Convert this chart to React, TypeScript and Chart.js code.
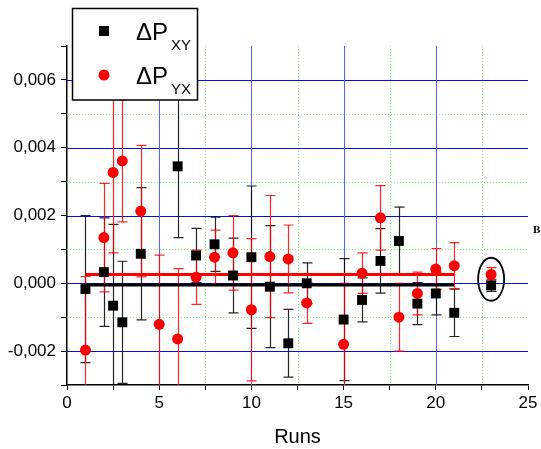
import React, { useEffect, useRef } from 'react';
import { Chart, registerables } from 'chart.js';

Chart.register(...registerables);

// ---- Data ----
const runsXY = [1, 2, 2.5, 3, 4, 6, 7, 8, 9, 10, 11, 12, 13, 15, 16, 17, 18, 19, 20, 21, 23];
const dPXY = [-0.00017, 0.00033, -0.00066, -0.00115, 0.00087, 0.00345, 0.00082, 0.00115, 0.00023, 0.00077, -0.0001, -0.00177, 0.0, -0.00107, -0.00049, 0.00066, 0.00125, -0.0006, -0.0003, -0.00087, -0.00006];
const errXY = [0.00217, 0.0016, 0.0024, 0.0018, 0.00195, 0.0021, 0.0008, 0.0008, 0.0011, 0.0021, 0.0018, 0.001, 0.0006, 0.0018, 0.00065, 0.00095, 0.001, 0.00062, 0.00063, 0.0007, 0.00018];

const runsYX = [1, 2, 2.5, 3, 4, 5, 6, 7, 8, 9, 10, 11, 12, 13, 15, 16, 17, 18, 19, 20, 21, 23];
const dPYX = [-0.00197, 0.00135, 0.00327, 0.00361, 0.00213, -0.00121, -0.00164, 0.00018, 0.00077, 0.0009, -0.00078, 0.00079, 0.00072, -0.00058, -0.0018, 0.0003, 0.00193, -0.001, -0.0003, 0.00042, 0.00052, 0.00026];
const errYX = [0.00217, 0.0016, 0.00237, 0.0018, 0.00194, 0.00204, 0.00207, 0.0008, 0.0008, 0.0011, 0.0021, 0.0018, 0.001, 0.0006, 0.0018, 0.0006, 0.00095, 0.001, 0.00063, 0.0006, 0.00068, 0.0002];

const meanRuns = [1, 21];
const meanXY = -0.00005;
const meanYX = 0.00026;

const circledRun = 23;
const circledValue = 0.00012;

const xLabel = 'Runs';
const legendMain = 'ΔP';
const legendSubXY = 'XY';
const legendSubYX = 'YX';
const cornerMark = 'B';

const FONT = '"Liberation Sans", Arial, Helvetica, sans-serif';

const isMajorY = (v: number) => Math.round(v * 1000) % 2 === 0;
const isMajorX = (v: number) => Math.round(v / 2.5) % 2 === 0;

const gridPlugin = {
  id: 'customGrid',
  beforeDatasetsDraw(chart: any) {
    const { ctx, chartArea, scales } = chart;
    const x = scales.x;
    const y = scales.y;
    ctx.save();
    ctx.lineWidth = 1;
    // minor (dotted green)
    ctx.strokeStyle = 'rgb(150,235,150)';
    ctx.setLineDash([1, 2]);
    y.ticks.forEach((t: any) => {
      if (isMajorY(t.value) || t.value <= y.min + 1e-9 || t.value >= y.max - 1e-9) return;
      const p = Math.round(y.getPixelForValue(t.value)) + 0.5;
      ctx.beginPath();
      ctx.moveTo(chartArea.left, p);
      ctx.lineTo(chartArea.right, p);
      ctx.stroke();
    });
    x.ticks.forEach((t: any) => {
      if (isMajorX(t.value) || t.value <= x.min || t.value >= x.max) return;
      const p = Math.round(x.getPixelForValue(t.value)) + 0.5;
      ctx.beginPath();
      ctx.moveTo(p, chartArea.top);
      ctx.lineTo(p, chartArea.bottom);
      ctx.stroke();
    });
    ctx.setLineDash([]);
    // major (blue)
    ctx.strokeStyle = 'rgb(10,10,240)';
    y.ticks.forEach((t: any) => {
      if (!isMajorY(t.value) || t.value <= y.min + 1e-9 || t.value >= y.max - 1e-9) return;
      const p = Math.round(y.getPixelForValue(t.value)) + 0.5;
      ctx.beginPath();
      ctx.moveTo(chartArea.left, p);
      ctx.lineTo(chartArea.right, p);
      ctx.stroke();
    });
    ctx.strokeStyle = 'rgb(90,90,245)';
    x.ticks.forEach((t: any) => {
      if (!isMajorX(t.value) || t.value <= x.min || t.value >= x.max) return;
      const p = Math.round(x.getPixelForValue(t.value)) + 0.5;
      ctx.beginPath();
      ctx.moveTo(p, chartArea.top);
      ctx.lineTo(p, chartArea.bottom);
      ctx.stroke();
    });
    ctx.restore();
  },
};

const errorBarsPlugin = {
  id: 'errorBars',
  beforeDatasetsDraw(chart: any) {
    const { ctx, chartArea, scales } = chart;
    const x = scales.x;
    const y = scales.y;
    ctx.save();
    ctx.beginPath();
    ctx.rect(chartArea.left, chartArea.top, chartArea.right - chartArea.left, chartArea.bottom - chartArea.top);
    ctx.clip();
    const draw = (xs: number[], vs: number[], es: number[], color: string) => {
      ctx.strokeStyle = color;
      ctx.lineWidth = 1.2;
      xs.forEach((xv, i) => {
        const px = Math.round(x.getPixelForValue(xv)) + 0.5;
        const top = y.getPixelForValue(vs[i] + es[i]);
        const bot = y.getPixelForValue(vs[i] - es[i]);
        ctx.beginPath();
        ctx.moveTo(px, top);
        ctx.lineTo(px, bot);
        ctx.moveTo(px - 5, top);
        ctx.lineTo(px + 5, top);
        ctx.moveTo(px - 5, bot);
        ctx.lineTo(px + 5, bot);
        ctx.stroke();
      });
    };
    draw(runsXY, dPXY, errXY, 'rgba(0,0,0,0.85)');
    draw(runsYX, dPYX, errYX, 'rgba(255,0,0,0.85)');
    ctx.restore();
  },
};

const overlayPlugin = {
  id: 'overlay',
  afterDraw(chart: any) {
    const { ctx, scales } = chart;
    const x = scales.x;
    const y = scales.y;
    ctx.save();
    // ellipse around the last pair of points
    ctx.beginPath();
    ctx.ellipse(x.getPixelForValue(circledRun), y.getPixelForValue(circledValue), 13, 21.5, 0, 0, Math.PI * 2);
    ctx.strokeStyle = 'black';
    ctx.lineWidth = 1.8;
    ctx.stroke();

    // legend box
    ctx.fillStyle = 'white';
    ctx.fillRect(72, 8, 126, 92);
    ctx.strokeStyle = 'black';
    ctx.lineWidth = 1.5;
    ctx.strokeRect(72.5, 8.5, 125, 91.5);

    ctx.fillStyle = 'black';
    ctx.fillRect(99, 26, 10, 10);
    ctx.beginPath();
    ctx.arc(104, 75, 5.5, 0, Math.PI * 2);
    ctx.fillStyle = 'red';
    ctx.fill();

    ctx.fillStyle = 'black';
    ctx.textBaseline = 'alphabetic';
    ctx.textAlign = 'left';
    const rows: [string, number][] = [[legendSubXY, 39.5], [legendSubYX, 83.5]];
    rows.forEach(([sub, base]) => {
      ctx.font = `24px ${FONT}`;
      ctx.fillText(legendMain, 136, base);
      const w = ctx.measureText(legendMain).width;
      ctx.font = `15px ${FONT}`;
      ctx.fillText(sub, 136 + w + 3, base + 10.5);
    });

    ctx.font = 'bold 11px "Liberation Serif", "Times New Roman", serif';
    ctx.fillText(cornerMark, 533, 233);
    ctx.restore();
  },
};

export default function App() {
  const ref = useRef<HTMLCanvasElement>(null);
  useEffect(() => {
    const canvas = ref.current;
    if (!canvas) return;
    const chart = new Chart(canvas, {
      type: 'scatter',
      data: {
        datasets: [
          {
            label: 'ΔP XY',
            data: runsXY.map((r, i) => ({ x: r, y: dPXY[i] })),
            pointStyle: 'rect',
            pointRadius: 7,
            pointBackgroundColor: 'black',
            pointBorderWidth: 0,
            order: 0,
          },
          {
            label: 'ΔP YX',
            data: runsYX.map((r, i) => ({ x: r, y: dPYX[i] })),
            pointStyle: 'circle',
            pointRadius: 5.5,
            pointBackgroundColor: 'red',
            pointBorderWidth: 0,
            order: 1,
          },
          {
            label: 'mean XY',
            data: meanRuns.map((r) => ({ x: r, y: meanXY })),
            showLine: true,
            borderColor: 'black',
            borderWidth: 3,
            pointRadius: 0,
            order: 2,
          },
          {
            label: 'mean YX',
            data: meanRuns.map((r) => ({ x: r, y: meanYX })),
            showLine: true,
            borderColor: 'red',
            borderWidth: 3,
            pointRadius: 0,
            order: 3,
          },
        ],
      } as any,
      options: {
        responsive: false,
        animation: false,
        devicePixelRatio: 1,
        layout: { padding: { top: 46, right: 13, left: 0, bottom: 0 } },
        plugins: { legend: { display: false }, tooltip: { enabled: false } },
        scales: {
          x: {
            type: 'linear',
            min: 0,
            max: 25,
            afterFit: (s: any) => { s.height = 64; },
            ticks: {
              stepSize: 2.5,
              autoSkip: false,
              maxRotation: 0,
              color: 'black',
              font: { size: 17, family: FONT },
              padding: 3,
              callback: (v: any) => {
                const m = Math.round(Number(v) / 2.5);
                return m % 2 === 0 ? String(m * 2.5) : '';
              },
            },
            title: {
              display: true,
              text: xLabel,
              color: 'black',
              font: { size: 20, family: FONT },
              padding: { top: 0, bottom: 0 },
            },
            grid: {
              drawOnChartArea: false,
              color: 'black',
              tickColor: 'black',
              tickLength: 5,
            },
            border: { display: true, color: 'black', width: 1.5 },
          },
          y: {
            type: 'linear',
            min: -0.003,
            max: 0.007,
            afterFit: (s: any) => { s.width = 67; },
            ticks: {
              stepSize: 0.001,
              autoSkip: false,
              color: 'black',
              font: { size: 17, family: FONT },
              padding: 5,
              callback: (v: any) => {
                const k = Math.round(Number(v) * 1000);
                return k % 2 === 0 ? (k / 1000).toFixed(3).replace('.', ',') : '';
              },
            },
            grid: {
              drawOnChartArea: false,
              color: 'black',
              tickColor: 'black',
              tickLength: 6,
            },
            border: { display: true, color: 'black', width: 1.5 },
          },
        },
      } as any,
      plugins: [gridPlugin, errorBarsPlugin, overlayPlugin],
    });
    return () => chart.destroy();
  }, []);

  return (
    <div style={{ position: 'absolute', left: 0, top: 0, width: 541, height: 449, background: 'white' }}>
      <canvas ref={ref} width={541} height={449} style={{ display: 'block', width: 541, height: 449 }} />
    </div>
  );
}
